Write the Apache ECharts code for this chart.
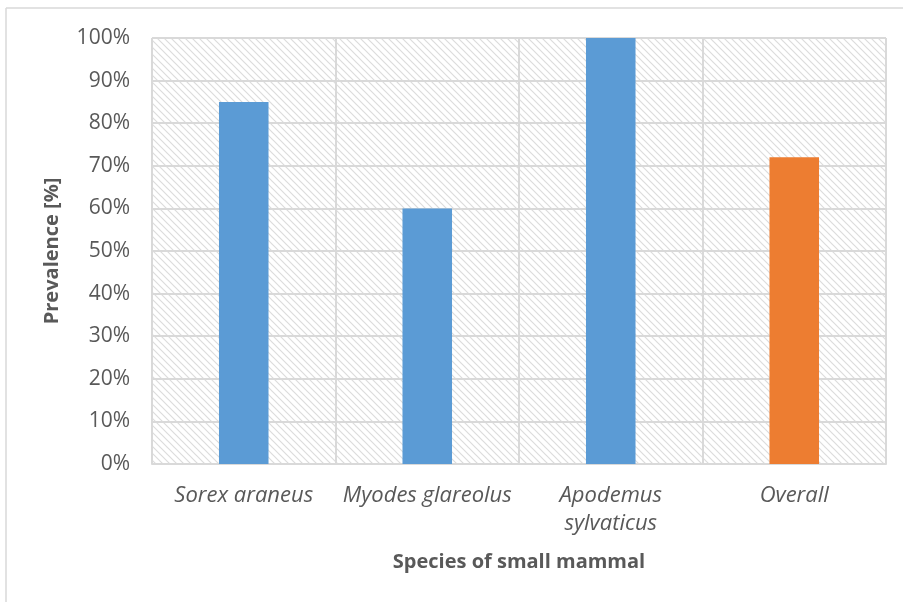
<!DOCTYPE html>
<html><head><meta charset="utf-8">
<script src="https://cdn.jsdelivr.net/npm/echarts@6/dist/echarts.min.js"></script>
<style>html,body{margin:0;padding:0;background:#fff}#c{width:903px;height:602px}</style>
</head><body><div id="c"></div>
<script>
const categories = ['Sorex araneus', 'Myodes glareolus', 'Apodemus\nsylvaticus', 'Overall'];
const prevalence = [85, 60, 100, 72];
const barColors = ['#5b9bd5', '#5b9bd5', '#5b9bd5', '#ed7d31'];
const yTicks = [0, 10, 20, 30, 40, 50, 60, 70, 80, 90, 100];

const pc = document.createElement('canvas');
pc.width = 7; pc.height = 7;
const g = pc.getContext('2d');
g.fillStyle = '#ffffff'; g.fillRect(0, 0, 7, 7);
g.strokeStyle = '#dcdcdc'; g.lineWidth = 1.2;
g.beginPath(); g.moveTo(-1, -1); g.lineTo(8, 8); g.stroke();
g.beginPath(); g.moveTo(-8, -1); g.lineTo(1, 8); g.stroke();
g.beginPath(); g.moveTo(6, -1); g.lineTo(15, 8); g.stroke();

const font = '"Open Sans", Lato, sans-serif';
const chart = echarts.init(document.getElementById('c'));
chart.setOption({
  animation: false,
  backgroundColor: '#fff',
  grid: { left: 152, right: 17, top: 38, bottom: 138, show: true, backgroundColor: { image: pc, repeat: 'repeat' }, borderWidth: 0 },
  graphic: [
    { type: 'line', shape: { x1: 6, y1: 8, x2: 903, y2: 8 }, style: { stroke: '#d9d9d9', lineWidth: 1.5 } },
    { type: 'line', shape: { x1: 6, y1: 8, x2: 6, y2: 602 }, style: { stroke: '#d9d9d9', lineWidth: 1.5 } }
  ],
  xAxis: {
    type: 'category', data: categories,
    name: 'Species of small mammal', nameLocation: 'middle', nameGap: 88,
    nameTextStyle: { fontFamily: font, fontSize: 20, fontWeight: 'bold', color: '#595959' },
    axisLine: { lineStyle: { color: '#d9d9d9', width: 2 } },
    axisTick: { show: false },
    axisLabel: { fontFamily: font, fontSize: 22, fontStyle: 'italic', color: '#595959', margin: 18, lineHeight: 28, interval: 0 },
    splitLine: { show: true, lineStyle: { color: '#d9d9d9', width: 2 } }
  },
  yAxis: {
    type: 'value', min: 0, max: 100, interval: 10,
    name: 'Prevalence [%]', nameLocation: 'middle', nameGap: 90,
    nameTextStyle: { fontFamily: font, fontSize: 20, fontWeight: 'bold', color: '#595959' },
    axisLine: { show: false }, axisTick: { show: false },
    axisLabel: { fontFamily: font, fontSize: 21, color: '#595959', margin: 22, formatter: v => yTicks.includes(v) ? v + '%' : '' },
    splitLine: { lineStyle: { color: '#d9d9d9', width: 2 } }
  },
  series: [{
    type: 'bar', barWidth: '27%',
    data: prevalence.map((v, i) => ({ value: v, itemStyle: { color: barColors[i] } }))
  }]
});
</script></body></html>
